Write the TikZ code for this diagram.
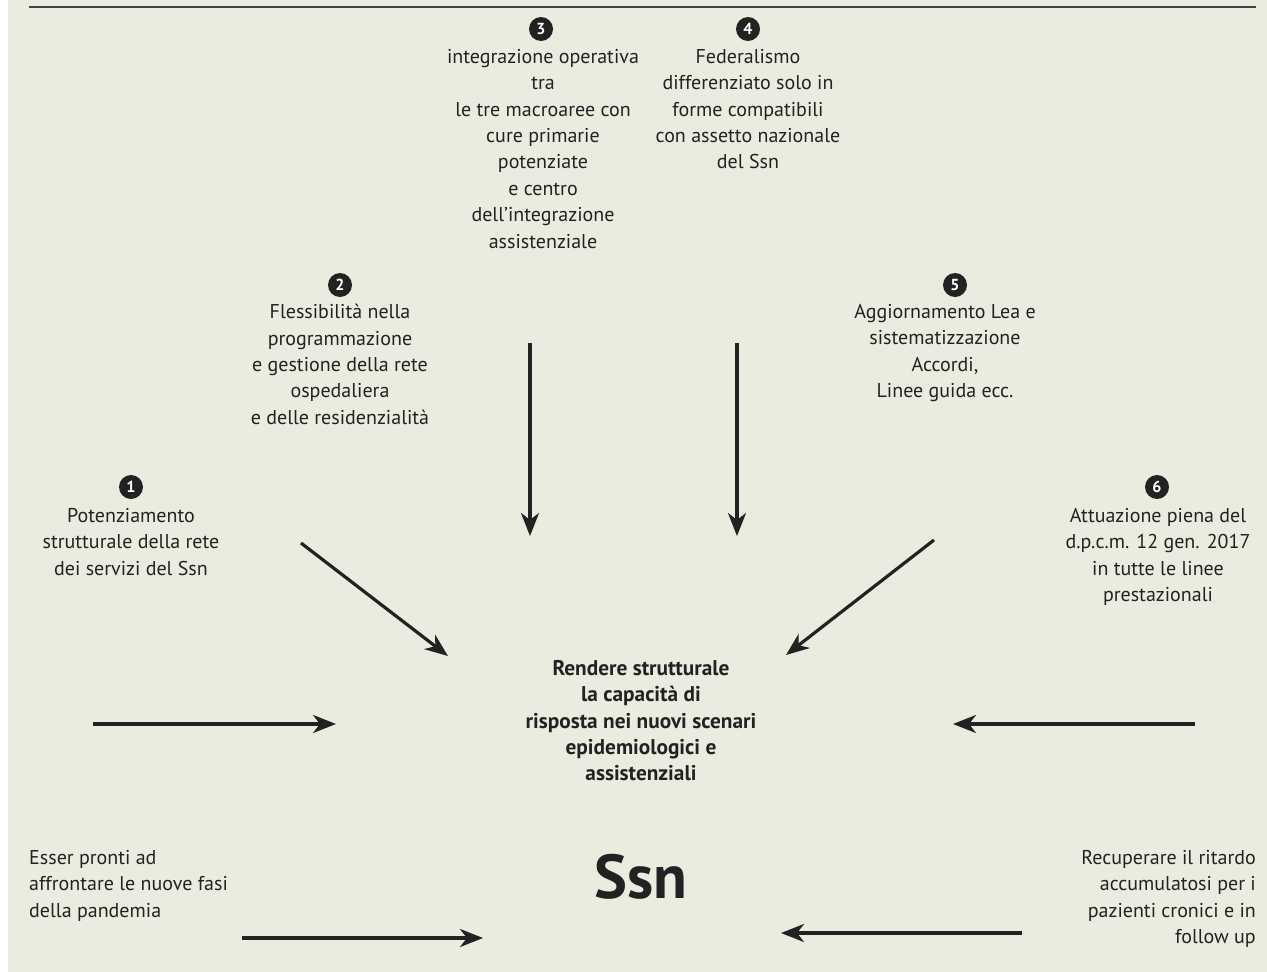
\documentclass[tikz,border=0pt]{standalone}
\usepackage{fontspec}
\setmainfont{PT Sans}
\usetikzlibrary{arrows.meta}
\definecolor{bgc}{HTML}{ECEBE0}
\definecolor{ink}{HTML}{222222}
\begin{document}
\begin{tikzpicture}[x=1pt,y=-1pt,
  txt/.style={align=center,text=ink,font=\fontsize{20}{26.4}\selectfont,inner sep=0pt,anchor=north},
  num/.style={circle,fill=ink,text=white,minimum size=24pt,inner sep=0pt,font=\fontsize{16}{16}\selectfont\bfseries},
  arr/.style={draw=ink,line width=3.2pt,-{Stealth[length=23pt,width=18pt,inset=7pt]}}]
\useasboundingbox (0,0) rectangle (1267,972);
\fill[bgc] (8,0) rectangle (1267,972);
\draw[ink!85,line width=2pt] (29,7) -- (1256,7);
% numbered circles
\node[num] (n1) at (131,487) {1};
\node[num] (n2) at (340,285) {2};
\node[num] (n3) at (541,29) {3};
\node[num] (n4) at (748,29) {4};
\node[num] (n5) at (955,285) {5};
\node[num] (n6) at (1157,487) {6};
% texts
\node[txt] (t3) at (543,49) {integrazione operativa\\tra\\le tre macroaree con\\cure primarie\\potenziate\\e centro\\dell’integrazione\\assistenziale};
\node[txt] (t4) at (748,49) {Federalismo\\differenziato solo in\\forme compatibili\\con assetto nazionale\\del Ssn};
\node[txt] (t2) at (340,304) {Flessibilità nella\\programmazione\\e gestione della rete\\ospedaliera\\e delle residenzialità};
\node[txt] (t5) at (945,304) {Aggiornamento Lea e\\sistematizzazione\\Accordi,\\Linee guida ecc.};
\node[txt] (t1) at (131,508) {Potenziamento\\strutturale della rete\\dei servizi del Ssn};
\node[txt] (t6) at (1158,508) {Attuazione piena del\\d.p.c.m. 12 gen. 2017\\in tutte le linee\\prestazionali};
\node[txt,font=\fontsize{21.3}{26.4}\selectfont\bfseries] (tc) at (641,660) {Rendere strutturale\\la capacità di\\risposta nei nuovi scenari\\epidemiologici e\\assistenziali};
\node[text=ink,font=\fontsize{62}{62}\selectfont\bfseries,inner sep=0pt] (ssn) at (641,877) {Ssn};
\node[txt,align=left,anchor=north west] (tl) at (29,850) {Esser pronti ad\\affrontare le nuove fasi\\della pandemia};
\node[txt,align=right,anchor=north east] (tr) at (1256,850) {Recuperare il ritardo\\accumulatosi per i\\pazienti cronici e in\\follow up};
% arrow endpoints
\coordinate (a3s) at (530,343); \coordinate (a3e) at (530,536);
\coordinate (a4s) at (737,343); \coordinate (a4e) at (737,536);
\coordinate (a1s) at (301,543); \coordinate (a1e) at (448,656);
\coordinate (a6s) at (934,540); \coordinate (a6e) at (786,655);
\coordinate (hls) at (93,724); \coordinate (hle) at (336,724);
\coordinate (hrs) at (1195,724); \coordinate (hre) at (953,724);
\coordinate (bls) at (242,938); \coordinate (ble) at (483,938);
\coordinate (brs) at (1022,933); \coordinate (bre) at (781,933);
\draw[arr] (a3s) -- (a3e);
\draw[arr] (a4s) -- (a4e);
\draw[arr] (a1s) -- (a1e);
\draw[arr] (a6s) -- (a6e);
\draw[arr] (hls) -- (hle);
\draw[arr] (hrs) -- (hre);
\draw[arr] (bls) -- (ble);
\draw[arr] (brs) -- (bre);
\end{tikzpicture}
\end{document}
